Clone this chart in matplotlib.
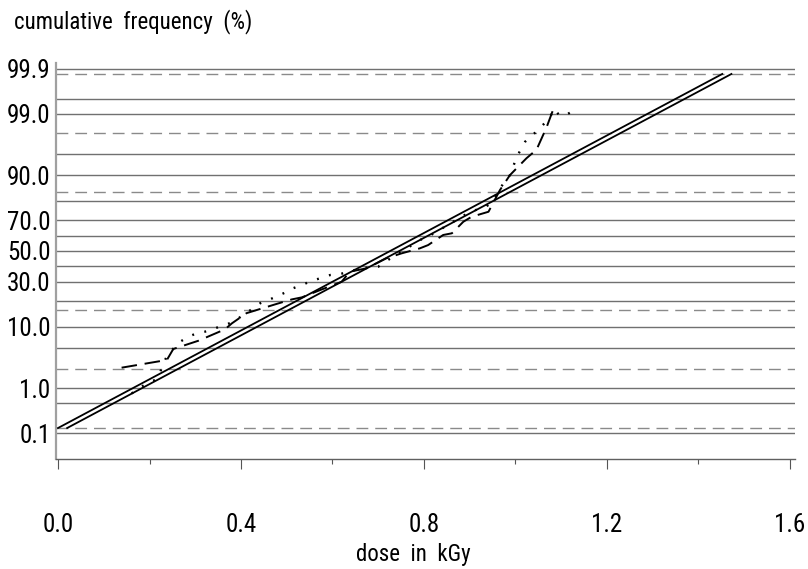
import numpy as np
import matplotlib
matplotlib.use('Agg')
import matplotlib.pyplot as plt
from matplotlib import font_manager
from statistics import NormalDist

# Empirical cumulative frequencies (dose in kGy, cumulative %)
dashed_dose = [0.139, 0.238, 0.252, 0.307, 0.365, 0.380, 0.412, 0.478, 0.511, 0.533,
               0.573, 0.620, 0.638, 0.675, 0.718, 0.751, 0.791, 0.809, 0.842, 0.861,
               0.886, 0.904, 0.941, 0.966, 0.988, 1.024, 1.046, 1.068, 1.083]
dashed_freq = [2.40, 3.24, 4.84, 6.42, 9.22, 11.0, 14.6, 18.5, 20.6, 21.6,
               25.4, 30.1, 36.3, 38.5, 45.1, 48.4, 51.8, 54.0, 60.7, 61.8,
               69.0, 71.9, 74.7, 84.9, 90.1, 94.2, 95.7, 98.2, 99.2]

dotted_dose = [0.161, 0.194, 0.212, 0.223, 0.227, 0.241, 0.249, 0.267, 0.285, 0.303,
               0.321, 0.343, 0.365, 0.383, 0.416, 0.442, 0.463, 0.496, 0.514, 0.533,
               0.555, 0.573, 0.595, 0.616, 0.638, 0.660, 0.700, 0.715, 0.733, 0.780,
               0.798, 0.809, 0.864, 0.901, 0.937, 0.955, 0.966, 0.988, 1.003, 1.021,
               1.050, 1.061, 1.075, 1.084, 1.097, 1.115, 1.134]
dotted_freq = [0.79, 1.25, 1.44, 1.91, 2.49, 4.15, 4.67, 6.21, 7.31, 8.15,
               8.57, 9.51, 10.5, 11.5, 15.2, 18.8, 20.6, 24.0, 26.4, 28.2,
               30.7, 32.2, 34.2, 34.8, 36.3, 38.5, 39.5, 42.8, 46.1, 55.2,
               58.5, 59.6, 69.0, 74.7, 77.4, 82.1, 85.6, 90.1, 94.5, 96.8,
               98.0, 98.4, 98.8, 99.2, 98.9, 99.0, 99.2]

# fitted normal distributions (mean, sd in kGy), drawn over mean +/- 3 sd
fit_mean = [0.726, 0.746]
fit_sd = [0.242, 0.242]

y_ticks = [0.1, 1.0, 10.0, 30.0, 50.0, 70.0, 90.0, 99.0, 99.9]
grid_solid = [0.1, 0.5, 1, 5, 10, 20, 30, 40, 50, 60, 70, 80, 90, 95, 99, 99.5, 99.9]
grid_sigma = [-3, -2, -1, 1, 2, 3]
x_ticks = [0.0, 0.4, 0.8, 1.2, 1.6]

# pick a narrow sans font if one is installed
fonts = font_manager.fontManager.ttflist
font_kw = {'family': ['Liberation Sans', 'DejaVu Sans']}
narrow = False
for name in ['Liberation Sans Narrow', 'Arial Narrow', 'Roboto Condensed',
             'Open Sans Condensed', 'DejaVu Sans Condensed']:
    if any(f.name == name for f in fonts):
        font_kw = {'family': [name, 'DejaVu Sans']}
        narrow = True
        break
if not narrow:
    for name in ['Roboto', 'Open Sans', 'DejaVu Sans', 'Noto Sans', 'Inter']:
        cond = [f for f in fonts if f.name == name and 'condensed' in str(f.stretch)]
        if cond:
            font_kw = {'family': [name, 'DejaVu Sans'], 'stretch': cond[0].stretch}
            narrow = True
            break
plt.rcParams['font.family'] = font_kw['family']
if 'stretch' in font_kw:
    plt.rcParams['font.stretch'] = font_kw['stretch']
tick_size = 18 if narrow else 15.5
label_size = 16.5 if narrow else 15

nd = NormalDist()


def fwd(p):
    p = np.clip(np.asarray(p, dtype=float) / 100.0, 1e-12, 1 - 1e-12)
    return np.vectorize(nd.inv_cdf, otypes=[float])(p)


def inv(z):
    return np.vectorize(nd.cdf, otypes=[float])(np.asarray(z, dtype=float)) * 100.0


fig = plt.figure(figsize=(8.08, 5.69), dpi=100)
ax = fig.add_axes([56 / 808, 110 / 569, 739 / 808, 396 / 569])
ax.set_yscale('function', functions=(fwd, inv))
ax.set_xlim(-0.0044, 1.611)
ax.set_ylim(inv(-3.525), inv(3.186))

# horizontal grid
for p in grid_solid:
    ax.axhline(p, color='#707070', lw=1.0, zorder=1)
for k in grid_sigma:
    ax.axhline(nd.cdf(k) * 100, color='#8a8a8a', lw=1.0, dashes=(8.5, 5), zorder=1)

# fitted lines
for m, s in zip(fit_mean, fit_sd):
    zz = np.array([-3.0, 3.0])
    ax.plot(m + s * zz, inv(zz), color='black', lw=1.3, zorder=3)

ax.plot(dashed_dose, dashed_freq, color='black', lw=1.4, dashes=(8, 4), zorder=4)
ax.plot(dotted_dose, dotted_freq, color='black', lw=1.7, dashes=(0.8, 4.5), zorder=4)

ax.set_yticks(y_ticks)
ax.set_yticklabels(['%.1f' % v for v in y_ticks])
ax.yaxis.set_minor_locator(matplotlib.ticker.NullLocator())
ax.tick_params(axis='y', length=0, pad=4, labelsize=tick_size)

ax.set_xticks(x_ticks)
ax.set_xticklabels(['%.1f' % v for v in x_ticks])
ax.set_xticks([0.2, 0.6, 1.0, 1.4], minor=True)
ax.tick_params(axis='x', which='major', direction='out', length=7, width=0.8,
               color='#555555', pad=32, labelsize=tick_size)
ax.tick_params(axis='x', which='minor', direction='out', length=3.5, width=0.8,
               color='#555555')

for side in ['top', 'right']:
    ax.spines[side].set_visible(False)
ax.spines['left'].set_color('#a0a0a0')
ax.spines['left'].set_linewidth(1.6)
ax.spines['bottom'].set_color('#606060')
ax.spines['bottom'].set_linewidth(1.0)

fig.text(14 / 808, 1 - 22 / 569, 'cumulative  frequency  (%)' if narrow else 'cumulative frequency (%)',
         fontsize=label_size, ha='left', va='center')
fig.text(413 / 808, 1 - 555 / 569, 'dose  in  kGy' if narrow else 'dose in kGy',
         fontsize=label_size, ha='center', va='center')

fig.savefig('out.png', dpi=100)
